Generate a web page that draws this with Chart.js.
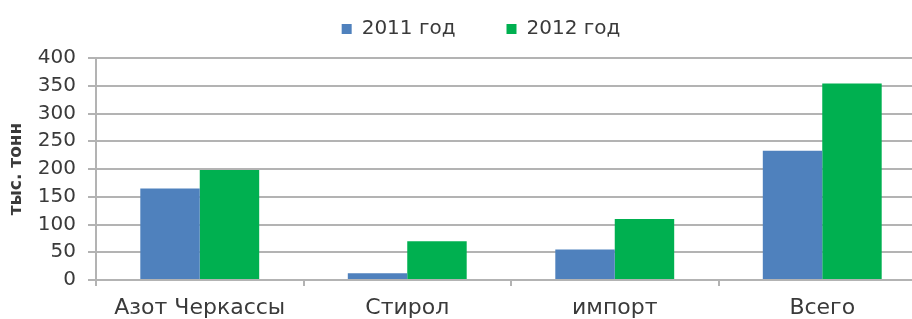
<!DOCTYPE html>
<html>
<head>
<meta charset="utf-8">
<script src="https://cdn.jsdelivr.net/npm/chart.js@4"></script>
<style>
  html, body { margin: 0; padding: 0; background: #fff; overflow: hidden; }
  #wrap { width: 940px; height: 319px; }
</style>
</head>
<body>
<div id="wrap"><canvas id="chart" width="940" height="319"></canvas></div>
<script>
// --- data ---
const categories = ['Азот Черкассы', 'Стирол', 'импорт', 'Всего'];
const series2011 = [165, 12, 55, 233];
const series2012 = [198, 70, 110, 354];
const seriesNames = ['2011 год', '2012 год'];
const yTicks = [0, 50, 100, 150, 200, 250, 300, 350, 400];

const FONT = "'DejaVu Sans', sans-serif";
const TEXT = '#3a3a3a';
const GRID = '#b3b3b3';

const LEGEND_HEIGHT = 58;
const LEGEND_UP = 32;

// fixed legend box height + nudge it to where it sits in the original
const legendShift = {
  id: 'legendShift',
  afterInit(chart) {
    const lg = chart.legend;
    if (!lg) return;
    const fit = lg.fit;
    lg.fit = function () {
      fit.call(this);
      this.height = LEGEND_HEIGHT;
    };
  },
  afterLayout(chart) {
    const lg = chart.legend;
    if (!lg) return;
    lg.left += 18; lg.right += 18;
    lg.top -= LEGEND_UP;   // bottom stays, so the box is not clipped
  }
};

new Chart(document.getElementById('chart'), {
  type: 'bar',
  data: {
    labels: categories,
    datasets: [
      {
        label: seriesNames[0],
        data: series2011,
        backgroundColor: '#4f81bd',
        categoryPercentage: 0.573,
        barPercentage: 1.0
      },
      {
        label: seriesNames[1],
        data: series2012,
        backgroundColor: '#00b050',
        categoryPercentage: 0.573,
        barPercentage: 1.0
      }
    ]
  },
  options: {
    responsive: false,
    animation: false,
    layout: { padding: { left: 0, right: 14, top: 0, bottom: 0 } },
    plugins: {
      legend: {
        position: 'top',
        labels: {
          color: TEXT,
          font: { family: FONT, size: 20 },
          boxWidth: 10,
          boxHeight: 10,
          padding: 51
        }
      },
      tooltip: { enabled: false }
    },
    scales: {
      x: {
        grid: {
          offset: true,
          drawOnChartArea: false,
          color: GRID,
          lineWidth: 2,
          tickLength: 6
        },
        border: { color: GRID, width: 2 },
        ticks: {
          color: TEXT,
          font: { family: FONT, size: 22 },
          padding: 9,
          maxRotation: 0
        },
        afterFit(scale) { scale.height = 39; }
      },
      y: {
        min: 0,
        max: 400,
        afterBuildTicks(scale) { scale.ticks = yTicks.map(v => ({ value: v })); },
        grid: { color: GRID, lineWidth: 2, tickLength: 8 },
        border: { color: GRID, width: 2 },
        ticks: {
          color: TEXT,
          font: { family: FONT, size: 20 },
          padding: 12,
          autoSkip: false
        },
        title: {
          display: true,
          text: 'тыс. тонн',
          color: TEXT,
          font: { family: FONT, size: 17, weight: 'bold' },
          padding: { top: 6, bottom: 0 }
        },
        afterFit(scale) { scale.width = 96; }
      }
    }
  },
  plugins: [legendShift]
});
</script>
</body>
</html>
